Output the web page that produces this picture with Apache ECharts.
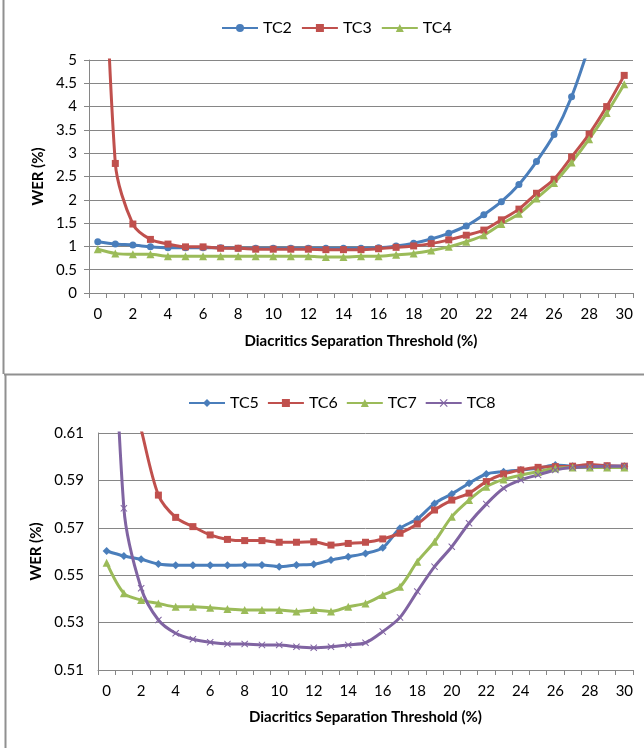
<!DOCTYPE html>
<html lang="en">
    <head>
        <meta charset="UTF-8">
        <title>WER vs diacritics separation threshold</title>
        <style type="text/css">
            body {margin: 0px; background-color: #ffffff;}
        </style>
        <script src="https://cdn.jsdelivr.net/npm/echarts@6/dist/echarts.min.js"></script>
    </head>
    <body>
        <div id="main" style="width: 644px; height: 748px;"></div>
        <script type="text/javascript">
            // threshold categories (%)
            var thresholds = ['0','1','2','3','4','5','6','7','8','9','10','11','12','13','14','15',
                              '16','17','18','19','20','21','22','23','24','25','26','27','28','29','30'];

            // upper chart
            var tc2 = [1.10, 1.05, 1.03, 0.99, 0.97, 0.97, 0.97, 0.97, 0.96, 0.96, 0.96, 0.96, 0.96, 0.96, 0.96, 0.96,
                       0.97, 1.01, 1.07, 1.16, 1.28, 1.44, 1.68, 1.96, 2.33, 2.82, 3.40, 4.21, 5.30, null, null];
            var tc3 = [12.0, 2.78, 1.48, 1.15, 1.05, 0.99, 0.99, 0.96, 0.96, 0.94, 0.94, 0.94, 0.94, 0.93, 0.93, 0.93,
                       0.95, 0.98, 1.01, 1.06, 1.14, 1.24, 1.35, 1.57, 1.80, 2.14, 2.44, 2.92, 3.41, 4.00, 4.67];
            var tc4 = [0.94, 0.85, 0.83, 0.83, 0.79, 0.79, 0.79, 0.79, 0.79, 0.79, 0.79, 0.79, 0.79, 0.77, 0.77, 0.79,
                       0.79, 0.82, 0.85, 0.91, 0.99, 1.10, 1.24, 1.48, 1.70, 2.03, 2.36, 2.80, 3.30, 3.86, 4.48];

            // lower chart
            var tc5 = [0.5602, 0.5581, 0.5567, 0.5547, 0.5542, 0.5542, 0.5542, 0.5542, 0.5543, 0.5543, 0.5536, 0.5543,
                       0.5546, 0.5564, 0.5578, 0.5592, 0.5616, 0.5698, 0.5737, 0.5803, 0.5843, 0.5888, 0.5927, 0.5937,
                       0.5944, 0.5951, 0.5965, 0.5960, 0.5960, 0.5960, 0.5960];
            var tc6 = [0.680, 0.640, 0.6115, 0.5838, 0.5744, 0.5705, 0.5670, 0.5651, 0.5646, 0.5646, 0.5639, 0.5639,
                       0.5641, 0.5627, 0.5634, 0.5639, 0.5653, 0.5677, 0.5716, 0.5775, 0.5817, 0.5846, 0.5895, 0.5927,
                       0.5944, 0.5955, 0.5958, 0.5960, 0.5967, 0.5962, 0.5960];
            var tc7 = [0.5553, 0.5424, 0.5395, 0.5381, 0.5367, 0.5367, 0.5363, 0.5357, 0.5353, 0.5353, 0.5353, 0.5347,
                       0.5353, 0.5347, 0.5367, 0.5381, 0.5416, 0.5451, 0.5557, 0.5641, 0.5747, 0.5817, 0.5873, 0.5904,
                       0.5922, 0.5937, 0.5951, 0.5954, 0.5954, 0.5954, 0.5954];
            var tc8 = [0.740, 0.5782, 0.5445, 0.5311, 0.5255, 0.5230, 0.5217, 0.5210, 0.5210, 0.5206, 0.5206, 0.5198,
                       0.5194, 0.5198, 0.5206, 0.5215, 0.5262, 0.5322, 0.5431, 0.5536, 0.5620, 0.5719, 0.5800, 0.5867,
                       0.5902, 0.5923, 0.5944, 0.5954, 0.5958, 0.5960, 0.5960];

            var FONT = 'Lato';
            var AXIS_GRAY = '#868686';
            var crossSymbol = 'path://M0,1L1,0L5,4L9,0L10,1L6,5L10,9L9,10L5,6L1,10L0,9L4,5Z';

            function makeSeries(name, data, color, symbol, size, idx) {
                return {
                    name: name,
                    type: 'line',
                    xAxisIndex: idx,
                    yAxisIndex: idx,
                    data: data,
                    smooth: 0.3,
                    symbol: symbol,
                    symbolSize: size,
                    showAllSymbol: true,
                    clip: true,
                    connectNulls: false,
                    lineStyle: {color: color, width: 3},
                    itemStyle: {color: color},
                    emphasis: {disabled: true}
                };
            }

            function makeXAxis(idx, gap) {
                return {
                    type: 'category',
                    gridIndex: idx,
                    data: thresholds,
                    boundaryGap: true,
                    name: 'Diacritics Separation Threshold (%)',
                    nameLocation: 'middle',
                    nameGap: gap,
                    nameTextStyle: {fontFamily: FONT, fontSize: 15, fontWeight: 'bold', color: '#000'},
                    axisLine: {lineStyle: {color: AXIS_GRAY, width: 1}},
                    axisTick: {show: true, interval: 0, length: 5, lineStyle: {color: AXIS_GRAY}},
                    axisLabel: {interval: 1, margin: 14, fontFamily: FONT, fontSize: 15, color: '#000'},
                    splitLine: {show: false}
                };
            }

            var myChart = echarts.init(document.getElementById('main'), null, {renderer: 'canvas'});

            var option = {
                backgroundColor: '#ffffff',
                animation: false,
                legend: [
                    {
                        data: ['TC2', 'TC3', 'TC4'],
                        left: 216, top: 15,
                        itemWidth: 36, itemHeight: 10, itemGap: 9,
                        textStyle: {fontFamily: FONT, fontSize: 16, color: '#000'}
                    },
                    {
                        data: ['TC5', 'TC6', 'TC7', 'TC8'],
                        left: 183, top: 390,
                        itemWidth: 36, itemHeight: 10, itemGap: 8,
                        textStyle: {fontFamily: FONT, fontSize: 16, color: '#000'}
                    }
                ],
                grid: [
                    {left: 89, top: 60, width: 544, height: 233},
                    {left: 98, top: 433, width: 535, height: 237}
                ],
                xAxis: [makeXAxis(0, 41), makeXAxis(1, 40)],
                yAxis: [
                    {
                        type: 'value', gridIndex: 0,
                        min: 0, max: 5, interval: 0.5,
                        name: 'WER (%)', nameLocation: 'middle', nameGap: 42,
                        nameTextStyle: {fontFamily: FONT, fontSize: 15, fontWeight: 'bold', color: '#000'},
                        axisLine: {show: true, lineStyle: {color: AXIS_GRAY}},
                        axisTick: {show: true, length: 5, lineStyle: {color: AXIS_GRAY}},
                        axisLabel: {margin: 12, fontFamily: FONT, fontSize: 15, color: '#000'},
                        splitLine: {lineStyle: {color: AXIS_GRAY, width: 1}}
                    },
                    {
                        // ticks every 0.01, only every other one labelled / gridded
                        type: 'value', gridIndex: 1,
                        min: 0.51, max: 0.61, interval: 0.01,
                        name: 'WER (%)', nameLocation: 'middle', nameGap: 50,
                        nameTextStyle: {fontFamily: FONT, fontSize: 15, fontWeight: 'bold', color: '#000'},
                        axisLine: {show: true, lineStyle: {color: AXIS_GRAY}},
                        axisTick: {show: false},
                        axisLabel: {
                            margin: 14, fontFamily: FONT, fontSize: 15, color: '#000',
                            formatter: function (v) {
                                var n = Math.round(v * 100);
                                return n % 2 === 1 ? (n / 100).toFixed(2) : '';
                            }
                        },
                        splitLine: {lineStyle: {color: [AXIS_GRAY, 'rgba(0,0,0,0)'], width: 1}}
                    }
                ],
                graphic: [
                    {type: 'line', shape: {x1: 3.5, y1: 0, x2: 3.5, y2: 374}, style: {stroke: '#909090', lineWidth: 2}},
                    {type: 'line', shape: {x1: 4, y1: 374.5, x2: 644, y2: 374.5}, style: {stroke: '#909090', lineWidth: 2}},
                    {type: 'line', shape: {x1: 5.5, y1: 374, x2: 5.5, y2: 748}, style: {stroke: '#909090', lineWidth: 2}}
                ],
                series: [
                    makeSeries('TC2', tc2, '#4A7EBB', 'circle', 7, 0),
                    makeSeries('TC3', tc3, '#C0504D', 'rect', 7, 0),
                    makeSeries('TC4', tc4, '#9BBB59', 'triangle', 8, 0),
                    makeSeries('TC5', tc5, '#4A7EBB', 'diamond', 8, 1),
                    makeSeries('TC6', tc6, '#C0504D', 'rect', 7, 1),
                    makeSeries('TC7', tc7, '#9BBB59', 'triangle', 8, 1),
                    makeSeries('TC8', tc8, '#8064A2', crossSymbol, 7, 1)
                ]
            };

            myChart.setOption(option);
        </script>
    </body>
</html>
